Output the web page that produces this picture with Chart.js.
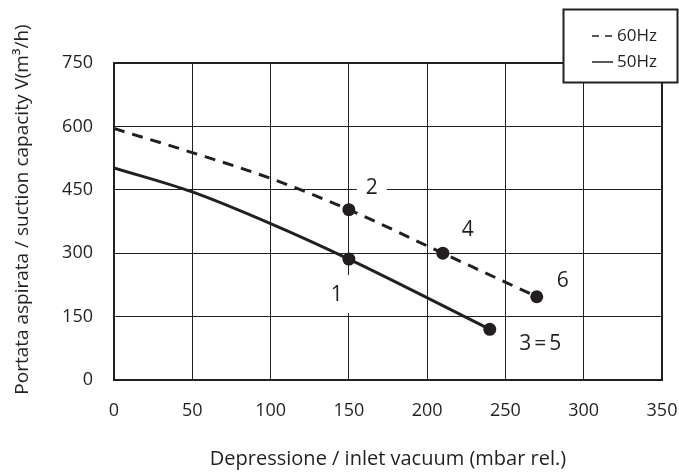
<!DOCTYPE html>
<html>
<head>
<meta charset="utf-8">
<script src="https://cdn.jsdelivr.net/npm/chart.js@4.4.1/dist/chart.umd.min.js"></script>
<style>
  html, body { margin: 0; padding: 0; background: #fff; }
  #wrap { width: 679px; height: 472px; position: relative; }
</style>
</head>
<body>
<div id="wrap"><canvas id="chart"></canvas></div>
<script>
// valori (mbar rel. / m3/h)
const xTickValues = [0, 50, 100, 150, 200, 250, 300, 350];
const yTickValues = [0, 150, 300, 450, 600, 750];

const vac60 = [0, 50, 100, 150, 210, 270];
const flow60 = [595, 538, 477, 403, 300, 197];
const mark60 = ['', '', '', '2', '4', '6'];

const vac50 = [0, 50, 100, 150, 240];
const flow50 = [502, 445, 370, 286, 120];
const mark50 = ['', '', '', '1', '3=5'];

const seriesNames = ['60Hz', '50Hz'];

const ink = '#231f20';
const font = 'Open Sans';

function toPoints(xs, ys) {
  return xs.map((x, i) => ({ x: x, y: ys[i] }));
}

// offset etichette rispetto al punto (px)
const noteOffsets = { '1': [-12, 35], '2': [23, -23], '4': [25, -24], '6': [26, -17], '3=5': [52, 14] };

// sposta il titolo dell'asse di qualche px (il grafico originale non e' centrato)
function shiftTitle(dy) {
  return function (s) {
    if (s._titleShifted) return;
    s._titleShifted = true;
    const orig = s.drawTitle;
    s.drawTitle = function () {
      this.ctx.save();
      this.ctx.translate(0, dy);
      orig.call(this);
      this.ctx.restore();
    };
  };
}

const notesPlugin = {
  id: 'notes',
  beforeDatasetsDraw(chart) {
    const { ctx, chartArea } = chart;
    // cornice
    ctx.save();
    ctx.strokeStyle = ink;
    ctx.lineWidth = 2;
    ctx.strokeRect(chartArea.left, chartArea.top, chartArea.right - chartArea.left, chartArea.bottom - chartArea.top);
    ctx.restore();

    ctx.save();
    ctx.font = '21px "' + font + '"';
    ctx.textAlign = 'center';
    ctx.textBaseline = 'middle';
    chart.data.datasets.forEach((ds, di) => {
      const meta = chart.getDatasetMeta(di);
      ds.marks.forEach((txt, i) => {
        if (!txt) return;
        const el = meta.data[i];
        const off = noteOffsets[txt];
        const cx = el.x + off[0], cy = el.y + off[1];
        ctx.letterSpacing = txt.length > 1 ? '3px' : '0px';
        const w = ctx.measureText(txt).width;
        ctx.fillStyle = '#fff';
        ctx.fillRect(cx - w / 2 - 9, cy - 19, w + 18, 38);
        ctx.fillStyle = ink;
        ctx.fillText(txt, cx, cy + 1);
      });
    });
    ctx.restore();
  },
  afterDraw(chart) {
    const { ctx } = chart;
    ctx.save();
    ctx.fillStyle = '#fff';
    ctx.strokeStyle = ink;
    ctx.lineWidth = 2;
    ctx.fillRect(563.5, 9.5, 114, 73);
    ctx.strokeRect(563.5, 9.5, 114, 73);

    ctx.lineWidth = 1.5;
    ctx.setLineDash([7, 6]);
    ctx.beginPath(); ctx.moveTo(592, 36); ctx.lineTo(613, 36); ctx.stroke();
    ctx.setLineDash([]);
    ctx.beginPath(); ctx.moveTo(592, 62); ctx.lineTo(613, 62); ctx.stroke();

    ctx.fillStyle = ink;
    ctx.font = '17px "' + font + '"';
    ctx.textAlign = 'left';
    ctx.textBaseline = 'middle';
    ctx.fillText(seriesNames[0], 617, 36);
    ctx.fillText(seriesNames[1], 617, 62);
    ctx.restore();
  }
};

document.addEventListener('DOMContentLoaded', function () {
  const ctx = document.getElementById('chart');
  new Chart(ctx.getContext('2d'), {
    type: 'scatter',
    data: {
      datasets: [
        {
          label: seriesNames[0], data: toPoints(vac60, flow60), marks: mark60,
          showLine: true, borderColor: ink, borderWidth: 3, borderDash: [11, 8],
          cubicInterpolationMode: 'monotone',
          pointRadius: mark60.map(m => m ? 6.5 : 0), pointBackgroundColor: ink, pointBorderWidth: 0
        },
        {
          label: seriesNames[1], data: toPoints(vac50, flow50), marks: mark50,
          showLine: true, borderColor: ink, borderWidth: 3,
          cubicInterpolationMode: 'monotone',
          pointRadius: mark50.map(m => m ? 6.5 : 0), pointBackgroundColor: ink, pointBorderWidth: 0
        }
      ]
    },
    options: {
      responsive: true,
      maintainAspectRatio: false,
      animation: false,
      layout: { padding: { top: 63, right: 17, bottom: 0, left: 0 } },
      plugins: { legend: { display: false }, tooltip: { enabled: false } },
      scales: {
        x: {
          type: 'linear', min: 0, max: 350,
          afterBuildTicks: s => { s.ticks = xTickValues.map(v => ({ value: v })); },
          afterFit: s => { s.height = 92; s.paddingLeft = 0; s.paddingRight = 0; },
          grid: { color: ink, lineWidth: 1, drawTicks: false },
          border: { display: false },
          ticks: { color: ink, padding: 20, font: { family: font, size: 18 }, maxRotation: 0 },
          title: {
            display: true, text: 'Depressione / inlet vacuum (mbar rel.)',
            color: ink, font: { family: font, size: 20 }, padding: { top: 0, bottom: 1 }
          }
        },
        y: {
          type: 'linear', min: 0, max: 750,
          afterBuildTicks: s => { s.ticks = yTickValues.map(v => ({ value: v })); },
          afterFit: s => { s.width = 114; s.paddingTop = 0; s.paddingBottom = 0; },
          afterUpdate: shiftTitle(-12),
          grid: { color: ink, lineWidth: 1, drawTicks: false },
          border: { display: false },
          ticks: { color: ink, padding: 21, font: { family: font, size: 18 } },
          title: {
            display: true, text: 'Portata aspirata / suction capacity V(m³/h)',
            color: ink, font: { family: font, size: 19 }, padding: { top: 11, bottom: 11 }
          }
        }
      }
    },
    plugins: [notesPlugin]
  });
});
</script>
</body>
</html>
